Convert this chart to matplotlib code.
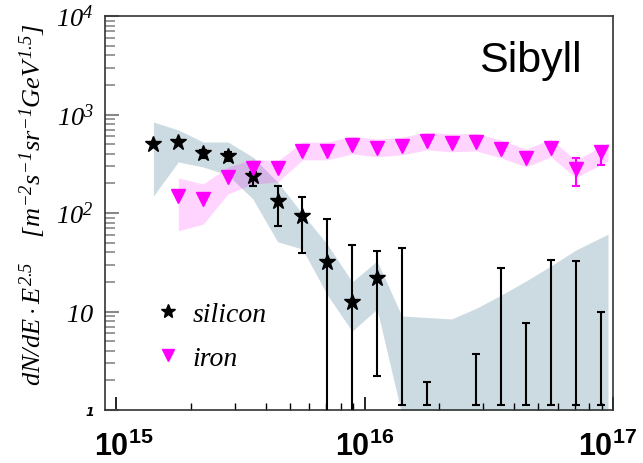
import numpy as np
import matplotlib.pyplot as plt
from matplotlib.lines import Line2D
from matplotlib.ticker import NullFormatter, LogLocator
from matplotlib.transforms import ScaledTranslation

plt.rcParams['mathtext.fontset'] = 'custom'
plt.rcParams['mathtext.it'] = 'Liberation Serif:italic'
plt.rcParams['mathtext.rm'] = 'Liberation Serif:italic'
plt.rcParams['mathtext.bf'] = 'Liberation Sans:bold'

# ---------------------------------------------------
# data (log10 of energy in eV, flux * E^2.5)
# ---------------------------------------------------
sil_logE = [15.15, 15.25, 15.35, 15.45, 15.55, 15.65, 15.75, 15.85, 15.95, 16.05]
sil_val = [502, 525, 405, 380, 238, 133, 93, 32, 12.5, 22]
sil_bar_lo = [np.nan, np.nan, 360, 340, 188, 74, 39, 0.5, 0.5, 2.2]
sil_bar_hi = [np.nan, np.nan, 440, 420, 260, 188, 146, 87, 47, 41]

# silicon bins with no point above the axis: only the error bar shows
lim_logE = [16.15, 16.25, 16.45, 16.55, 16.65, 16.75, 16.85, 16.95]
lim_top = [44, 1.92, 3.7, 27.7, 7.6, 33, 32.6, 9.9]
lim_bottom = 1.13

sil_band_logE = [15.15, 15.25, 15.35, 15.45, 15.55, 15.65, 15.75, 15.85, 15.95, 16.05,
                 16.15, 16.25, 16.35, 16.45, 16.55, 16.65, 16.75, 16.85, 16.98]
sil_band_hi = [839, 697, 526, 526, 370, 206, 98, 48, 20, 32.6,
               9.0, 8.7, 8.4, 10.8, 14.7, 20.4, 29, 42, 61]
sil_band_lo = [149, 330, 293, 243, 139, 51, 43, 14.7, 6.3, 10.6,
               0.9, 0.9, 0.9, 0.9, 0.9, 0.9, 0.9, 0.9, 0.9]

iron_logE = [15.25, 15.35, 15.45, 15.55, 15.65, 15.75, 15.85, 15.95, 16.05,
             16.15, 16.25, 16.35, 16.45, 16.55, 16.65, 16.75, 16.85, 16.95]
iron_val = [149, 139, 232, 286, 286, 426, 426, 490, 457,
            478, 538, 514, 525, 445, 362, 457, 280, 417]
iron_band_logE = [15.25, 15.35, 15.45, 15.55, 15.65, 15.75, 15.85, 15.95, 16.05,
                  16.15, 16.25, 16.35, 16.45, 16.55, 16.65, 16.75, 16.85, 16.98]
iron_band_hi = [227, 197, 293, 353, 337, 524, 524, 603, 562,
                588, 662, 632, 646, 547, 445, 562, 344, 513]
iron_band_lo = [66, 77, 156, 197, 206, 346, 346, 398, 372,
                389, 437, 418, 427, 362, 294, 372, 228, 339]
iron_err_logE = [16.85, 16.95]
iron_err_lo = [188, 310]
iron_err_hi = [362, 445]

# ---------------------------------------------------
# figure
# ---------------------------------------------------
fig = plt.figure(figsize=(6.43, 4.64), dpi=100)
ax = fig.add_axes([105/643, 53/464, 508/643, 394/464])
ax.set_xscale('log')
ax.set_yscale('log')
ax.set_xlim(10**14.955, 1e17)
ax.set_ylim(1, 1e4)

# uncertainty bands
ax.fill_between(10**np.array(sil_band_logE), sil_band_lo, sil_band_hi,
                color='#8fb0c0', alpha=0.45, lw=0, zorder=1)
ax.fill_between(10**np.array(iron_band_logE), iron_band_lo, iron_band_hi,
                color='#ff00ff', alpha=0.17, lw=0, zorder=2)

# silicon
xs = 10**np.array(sil_logE)
v = np.array(sil_val, dtype=float)
lo = np.array(sil_bar_lo, dtype=float)
hi = np.array(sil_bar_hi, dtype=float)
ok = ~np.isnan(lo)
ax.errorbar(xs[ok], v[ok], yerr=[v[ok] - lo[ok], hi[ok] - v[ok]], fmt='none',
            ecolor='black', elinewidth=1.5, capsize=3, capthick=1.5, zorder=3)
ax.plot(xs, v, ls='none', marker='*', ms=12, color='black', zorder=4)

xl = 10**np.array(lim_logE)
tops = np.array(lim_top)
ax.errorbar(xl, np.full_like(tops, lim_bottom), yerr=[np.zeros_like(tops), tops - lim_bottom],
            fmt='none', ecolor='black', elinewidth=1.5, capsize=3, capthick=1.5, zorder=3)

# iron
xi = 10**np.array(iron_logE)
ax.plot(xi, iron_val, ls='none', marker='v', ms=10, color='#ff00ff', zorder=4)
xe = 10**np.array(iron_err_logE)
mid = np.sqrt(np.array(iron_err_lo) * np.array(iron_err_hi))
ax.errorbar(xe, mid, yerr=[mid - np.array(iron_err_lo), np.array(iron_err_hi) - mid],
            fmt='none', ecolor='#ff00ff', elinewidth=1.5, capsize=3, capthick=1.5, zorder=3)

# ---------------------------------------------------
# axes styling
# ---------------------------------------------------
for s in ax.spines.values():
    s.set_linewidth(1.2)
    s.set_color('#333333')

ax.set_xticks([1e15, 1e16, 1e17])
ax.set_xticklabels([r'$\mathbf{10^{15}}$', r'$\mathbf{10^{16}}$', r'$\mathbf{10^{17}}$'])
ax.xaxis.set_minor_locator(LogLocator(base=10, subs=np.arange(2, 10)))
ax.xaxis.set_minor_formatter(NullFormatter())
ax.tick_params(axis='x', which='major', direction='in', length=9.5, width=1.2,
               labelsize=22, pad=14, color='black')
ax.tick_params(axis='x', which='minor', direction='in', length=5, width=1.0, color='black')
# nudge first and last labels like in the original
for lab, dx in zip(ax.get_xticklabels(), [8, 0, -6]):
    lab.set_transform(lab.get_transform() + ScaledTranslation(dx/100, 0, fig.dpi_scale_trans))

ax.set_yticks([1, 10, 100, 1000, 10000])
ax.set_yticklabels(['1', r'$10$', r'$10^{2}$', r'$10^{3}$', r'$10^{4}$'])
ax.yaxis.set_minor_locator(LogLocator(base=10, subs=np.arange(2, 10)))
ax.yaxis.set_minor_formatter(NullFormatter())
ax.tick_params(axis='y', which='major', direction='in', length=10, width=1.5,
               labelsize=19, pad=8, color='#888888')
ax.tick_params(axis='y', which='minor', direction='in', length=7, width=1.2, color='#888888')
one = ax.get_yticklabels()[0]
one.set_fontsize(9)
one.set_fontweight('bold')
one.set_fontstyle('italic')

fig.text(33/643, 1 - 205/464,
         r'$dN/dE \cdot E^{2.5}$   $[m^{-2}s^{-1}sr^{-1}GeV^{1.5}]$',
         rotation=90, ha='center', va='center', fontsize=19)

fig.text(479/643, 1 - 72/464, 'Sibyll', fontsize=31, family='Liberation Sans',
         ha='left', va='baseline')

handles = [Line2D([], [], ls='none', marker='*', ms=10, color='black'),
           Line2D([], [], ls='none', marker='v', ms=9, color='#ff00ff')]
ax.legend(handles, ['silicon', 'iron'], loc='upper left', bbox_to_anchor=(0.0965, 0.275),
          frameon=False, borderpad=0, borderaxespad=0, handlelength=1.0,
          handletextpad=0.4, labelspacing=0.65,
          prop={'family': 'Liberation Serif', 'style': 'italic', 'size': 20})

fig.savefig('out.png', dpi=100)
